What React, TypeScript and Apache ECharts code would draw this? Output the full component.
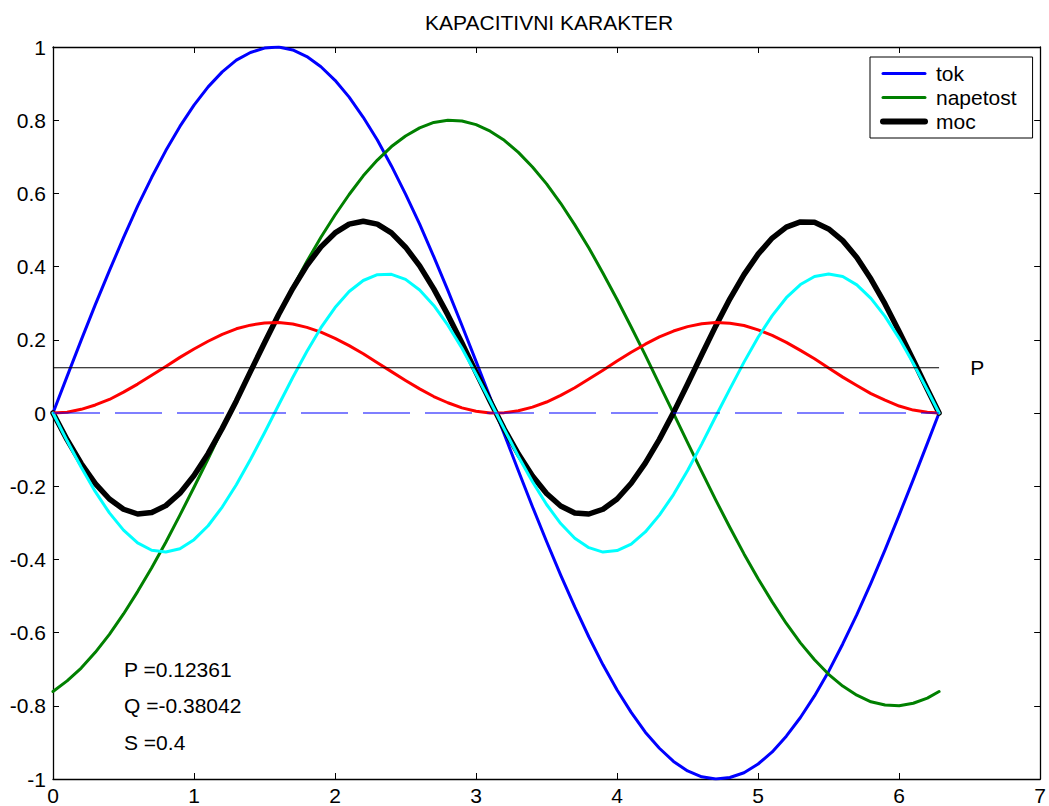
import React, { useEffect, useRef } from "react";
import * as echarts from "echarts";

const FONT = "'Liberation Sans', Arial, Helvetica, sans-serif";

const titleText = "KAPACITIVNI KARAKTER";

const xs = [
  0, 0.1, 0.2, 0.3, 0.4, 0.5, 0.6, 0.7, 0.8, 0.9,
  1.0, 1.1, 1.2, 1.3, 1.4, 1.5, 1.6, 1.7, 1.8, 1.9,
  2.0, 2.1, 2.2, 2.3, 2.4, 2.5, 2.6, 2.7, 2.8, 2.9,
  3.0, 3.1, 3.2, 3.3, 3.4, 3.5, 3.6, 3.7, 3.8, 3.9,
  4.0, 4.1, 4.2, 4.3, 4.4, 4.5, 4.6, 4.7, 4.8, 4.9,
  5.0, 5.1, 5.2, 5.3, 5.4, 5.5, 5.6, 5.7, 5.8, 5.9,
  6.0, 6.1, 6.2, 6.2832,
];

const tok = [
  0, 0.1, 0.199, 0.296, 0.389, 0.479, 0.565, 0.644, 0.717, 0.783,
  0.841, 0.891, 0.932, 0.964, 0.985, 0.997, 1.0, 0.992, 0.974, 0.946,
  0.909, 0.863, 0.808, 0.746, 0.675, 0.598, 0.516, 0.427, 0.335, 0.239,
  0.141, 0.042, -0.058, -0.158, -0.256, -0.351, -0.443, -0.53, -0.612, -0.688,
  -0.757, -0.818, -0.872, -0.916, -0.952, -0.978, -0.994, -1.0, -0.996, -0.983,
  -0.959, -0.926, -0.883, -0.832, -0.773, -0.706, -0.631, -0.551, -0.465, -0.374,
  -0.279, -0.182, -0.083, 0,
];

const napetost = [
  -0.761, -0.732, -0.697, -0.654, -0.605, -0.549, -0.488, -0.423, -0.353, -0.279,
  -0.203, -0.125, -0.045, 0.035, 0.114, 0.193, 0.269, 0.343, 0.414, 0.48,
  0.541, 0.597, 0.648, 0.691, 0.728, 0.757, 0.779, 0.794, 0.8, 0.798,
  0.788, 0.77, 0.745, 0.712, 0.672, 0.626, 0.573, 0.514, 0.451, 0.382,
  0.31, 0.235, 0.158, 0.078, -0.001, -0.081, -0.16, -0.238, -0.313, -0.385,
  -0.453, -0.516, -0.575, -0.628, -0.674, -0.714, -0.746, -0.771, -0.789, -0.798,
  -0.8, -0.793, -0.779, -0.761,
];

const moc = [
  0, -0.073, -0.138, -0.193, -0.235, -0.263, -0.276, -0.272, -0.253, -0.219,
  -0.171, -0.111, -0.042, 0.033, 0.113, 0.192, 0.269, 0.34, 0.403, 0.454,
  0.492, 0.516, 0.524, 0.516, 0.492, 0.453, 0.402, 0.339, 0.268, 0.191,
  0.111, 0.032, -0.044, -0.112, -0.172, -0.22, -0.254, -0.273, -0.276, -0.263,
  -0.235, -0.192, -0.137, -0.072, 0.001, 0.079, 0.159, 0.238, 0.312, 0.378,
  0.434, 0.478, 0.508, 0.522, 0.521, 0.503, 0.471, 0.425, 0.366, 0.298,
  0.223, 0.145, 0.065, 0,
];

const aktivna = [
  0, 0.002, 0.01, 0.022, 0.037, 0.057, 0.079, 0.103, 0.127, 0.152,
  0.175, 0.196, 0.215, 0.23, 0.24, 0.246, 0.247, 0.243, 0.234, 0.221,
  0.204, 0.184, 0.162, 0.137, 0.113, 0.089, 0.066, 0.045, 0.028, 0.014,
  0.005, 0.0, 0.001, 0.006, 0.016, 0.03, 0.048, 0.069, 0.093, 0.117,
  0.142, 0.166, 0.188, 0.208, 0.224, 0.236, 0.244, 0.247, 0.245, 0.239,
  0.227, 0.212, 0.193, 0.171, 0.148, 0.123, 0.098, 0.075, 0.053, 0.035,
  0.019, 0.008, 0.002, 0,
];

const reaktivna = [
  0, -0.076, -0.148, -0.215, -0.273, -0.32, -0.355, -0.375, -0.38, -0.371,
  -0.346, -0.308, -0.257, -0.196, -0.127, -0.054, 0.022, 0.097, 0.168, 0.233,
  0.288, 0.332, 0.362, 0.378, 0.379, 0.365, 0.336, 0.294, 0.24, 0.177,
  0.106, 0.032, -0.044, -0.119, -0.188, -0.25, -0.302, -0.342, -0.368, -0.38,
  -0.376, -0.358, -0.325, -0.279, -0.223, -0.157, -0.085, -0.009, 0.066, 0.139,
  0.207, 0.266, 0.315, 0.351, 0.373, 0.38, 0.373, 0.35, 0.313, 0.264,
  0.204, 0.136, 0.063, 0,
];

const P = 0.12361;
const Q = -0.38042;
const S = 0.4;

const refLineX = [0, 6.2832];
const pLine = [P, P];
const zeroLine = [0, 0];

const annotX = [0.5, 0.5, 0.5];
const annotY = [-0.7, -0.8, -0.9];
const annotText = ["P =" + P, "Q =" + Q, "S =" + S];

const pLabelX = 6.5;
const pLabelText = "P";

const legendNames = ["tok", "napetost", "moc"];

const pairs = (x: number[], y: number[]) => x.map((v, i) => [v, y[i]]);

export default function App() {
  const ref = useRef<HTMLDivElement>(null);

  useEffect(() => {
    document.body.style.margin = "0";
    if (!ref.current) return;
    const chart = echarts.init(ref.current, undefined, { renderer: "svg" });

    const lineSeries = (name: string, data: number[], color: string, width: number, z: number) => ({
      name,
      type: "line",
      data: pairs(xs, data),
      smooth: false,
      symbol: "none",
      lineStyle: { color, width, join: "round", cap: "round" },
      itemStyle: { color },
      z,
    });

    const axisCommon = {
      axisLine: { onZero: false, lineStyle: { color: "#000", width: 1.3 } },
      axisTick: { inside: true, length: 6, lineStyle: { color: "#000", width: 1 } },
      splitLine: { show: false },
    };

    chart.setOption({
      animation: false,
      backgroundColor: "#fff",
      title: {
        text: titleText,
        left: 420,
        top: 7,
        textStyle: { fontFamily: FONT, fontSize: 21, fontWeight: "normal", color: "#000" },
      },
      grid: { left: 53, right: 4, top: 47, bottom: 25, containLabel: false },
      legend: {
        orient: "vertical",
        left: 870,
        top: 57,
        padding: [6, 16, 6, 10],
        itemGap: 3,
        itemWidth: 42,
        itemHeight: 20,
        borderColor: "#000",
        borderWidth: 1,
        borderRadius: 0,
        backgroundColor: "#fff",
        itemStyle: { opacity: 0 },
        textStyle: { fontFamily: FONT, fontSize: 21, color: "#000", padding: [0, 0, 0, 6] },
        data: [
          { name: legendNames[0], lineStyle: { width: 3 } },
          { name: legendNames[1], lineStyle: { width: 3 } },
          { name: legendNames[2], lineStyle: { width: 6 } },
        ],
      },
      xAxis: [
        {
          type: "value",
          min: 0,
          max: 7,
          interval: 1,
          position: "bottom",
          ...axisCommon,
          axisLabel: { fontFamily: FONT, fontSize: 21, color: "#000", margin: 6 },
        },
        {
          type: "value",
          min: 0,
          max: 7,
          interval: 1,
          position: "top",
          ...axisCommon,
          axisLabel: { show: false },
        },
      ],
      yAxis: [
        {
          type: "value",
          min: -1,
          max: 1,
          interval: 0.2,
          position: "left",
          ...axisCommon,
          axisLabel: { fontFamily: FONT, fontSize: 21, color: "#000", margin: 7 },
        },
        {
          type: "value",
          min: -1,
          max: 1,
          interval: 0.2,
          position: "right",
          ...axisCommon,
          axisLabel: { show: false },
        },
      ],
      series: [
        lineSeries("tok", tok, "#0000ff", 3, 2),
        lineSeries("napetost", napetost, "#008000", 3, 3),
        lineSeries("moc", moc, "#000000", 5.5, 4),
        lineSeries("aktivna", aktivna, "#ff0000", 3, 5),
        lineSeries("reaktivna", reaktivna, "#00ffff", 3, 6),
        {
          name: "Pline",
          type: "line",
          data: pairs(refLineX, pLine),
          symbol: "none",
          lineStyle: { color: "#000", width: 1 },
          z: 7,
        },
        {
          name: "nula",
          type: "line",
          data: pairs(refLineX, zeroLine),
          symbol: "none",
          lineStyle: { color: "#0000ff", width: 1.2, type: [47, 15] },
          z: 7,
        },
        {
          name: "oznake",
          type: "scatter",
          symbolSize: 1,
          itemStyle: { color: "#ffffff" },
          data: [
            ...annotX.map((x, i) => ({ value: [x, annotY[i]], label: { formatter: annotText[i] } })),
            { value: [pLabelX, P], label: { formatter: pLabelText } },
          ],
          label: {
            show: true,
            position: "right",
            distance: 0,
            fontFamily: FONT,
            fontSize: 21,
            color: "#000",
            opacity: 1,
          },
          z: 8,
        },
      ],
    });

    return () => chart.dispose();
  }, []);

  return <div ref={ref} style={{ width: 1049, height: 806 }} />;
}
